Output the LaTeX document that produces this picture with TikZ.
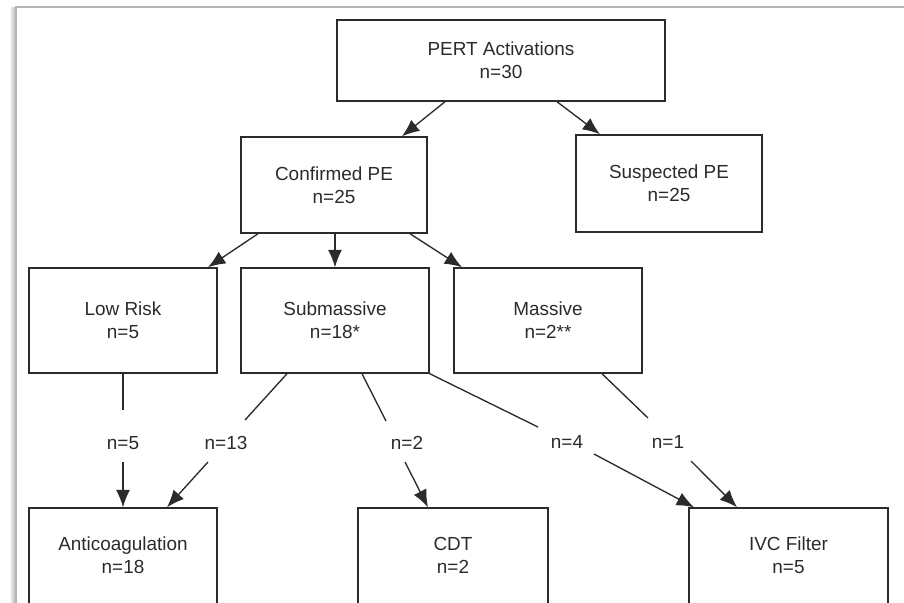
\documentclass[tikz,border=0pt]{standalone}
\usepackage{fontspec}
\setmainfont{Liberation Sans}
\usetikzlibrary{arrows.meta}
\definecolor{ink}{HTML}{2B2B2B}
\definecolor{framegray}{HTML}{B5B5B5}
\newcommand{\lowpad}{\rule[-4.5pt]{0pt}{0pt}}
\begin{document}
\begin{tikzpicture}[x=0.75pt,y=-0.75pt,
  box/.style={draw=ink, line width=1.1pt, inner sep=0pt, align=center, text=ink,
    font=\fontsize{14.2}{17.25}\selectfont},
  lbl/.style={text=ink, inner sep=0pt, font=\fontsize{14.2}{17.25}\selectfont},
  conn/.style={draw=ink, line width=1pt},
  arr/.style={conn, -{Latex[length=13pt,width=10.5pt]}}
]
\useasboundingbox (0,0) rectangle (904,603);
\clip (0,0) rectangle (904,603);
\fill[white] (0,0) rectangle (904,603);
% frame with shadow
\shade[left color=white, right color=black!28] (9,7) rectangle (15.5,610);
\fill[white] (16,7) rectangle (910,610);
\draw[framegray, line width=1.2pt] (16,612) -- (16,7) -- (910,7);

% boxes
\node[box, minimum width=246pt, minimum height=60.75pt] (pert) at (501,60.5) {PERT Activations\\n=30};
\node[box, minimum width=139.5pt, minimum height=72pt] (conf) at (334,185) {Confirmed PE\\n=25};
\node[box, minimum width=139.5pt, minimum height=72.75pt] (susp) at (669,183.5) {Suspected PE\\n=25};
\node[box, minimum width=141pt, minimum height=78.75pt] (low) at (123,320.5) {Low Risk\\n=5};
\node[box, minimum width=141pt, minimum height=78.75pt] (sub) at (335,320.5) {Submassive\\n=18*};
\node[box, minimum width=141pt, minimum height=78.75pt] (mass) at (548,320.5) {Massive\\n=2**};
\node[box, minimum width=141pt, minimum height=75pt] (anti) at (123,558) {Anticoagulation\\n=18\lowpad};
\node[box, minimum width=142.5pt, minimum height=75pt] (cdt) at (453,558) {CDT\\n=2\lowpad};
\node[box, minimum width=149.25pt, minimum height=75pt] (ivc) at (788.5,558) {IVC Filter\\n=5\lowpad};

% upper arrows
\draw[arr] (pert.south -| 445,0) -- (conf.north -| 402,0);
\draw[arr] (pert.south -| 557,0) -- (susp.north -| 600,0);
\draw[arr] (conf.south -| 258,0) -- (low.north -| 208,0);
\draw[arr] (conf.south -| 335,0) -- (sub.north -| 335,0);
\draw[arr] (conf.south -| 410,0) -- (mass.north -| 462,0);

% labelled connectors (broken around the labels)
\coordinate (g5a) at (123,410);  \coordinate (g5b) at (123,462);
\coordinate (g13a) at (245,420); \coordinate (g13b) at (208,462);
\coordinate (g2a) at (386,421);  \coordinate (g2b) at (405,462);
\coordinate (g4a) at (538,427);  \coordinate (g4b) at (594,454);
\coordinate (g1a) at (648,418);  \coordinate (g1b) at (691,461);

\draw[conn] (low.south) -- (g5a);
\draw[arr] (g5b) -- (anti.north);
\node[lbl] (l5) at (123,443) {n=5};

\draw[conn] (sub.south -| 287,0) -- (g13a);
\draw[arr] (g13b) -- (anti.north -| 167,0);
\node[lbl] (l13) at (226,443) {n=13};

\draw[conn] (sub.south -| 362,0) -- (g2a);
\draw[arr] (g2b) -- (cdt.north -| 428,0);
\node[lbl] (l2) at (407,443) {n=2};

\draw[conn] (sub.south east) -- (g4a);
\draw[arr] (g4b) -- (ivc.north -| 694,0);
\node[lbl] (l4) at (567,442) {n=4};

\draw[conn] (mass.south -| 602,0) -- (g1a);
\draw[arr] (g1b) -- (ivc.north -| 737,0);
\node[lbl] (l1) at (668,442) {n=1};
\end{tikzpicture}
\end{document}
